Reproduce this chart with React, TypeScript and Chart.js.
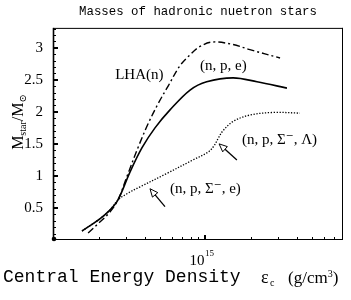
import React, { useEffect, useRef } from 'react';
import { Chart, registerables } from 'chart.js';

Chart.register(...registerables);

const TITLE = 'Masses of hadronic nuetron stars';
const X_TITLE = 'Central Energy Density';
const Y_TITLE_MAIN = 'M';
const Y_TITLE_SUB = 'star';
const Y_TITLE_SUB2 = '⊙';

// LHA(n) curve (dash-dot)
const lhaX = [1.70e14, 2.03e14, 2.37e14, 2.67e14, 3.10e14, 3.61e14, 4.20e14, 4.89e14, 5.72e14, 6.81e14, 7.93e14, 9.22e14, 1.12e15, 1.52e15, 1.96e15, 3.09e15];
const lhaY = [0.11, 0.28, 0.44, 0.625, 1.03, 1.44, 1.81, 2.125, 2.41, 2.72, 2.89, 3.02, 3.09, 3.05, 2.97, 2.84];

// (n, p, e) curve (solid)
const npeX = [1.55e14, 2.03e14, 2.37e14, 2.67e14, 3.20e14, 3.84e14, 4.67e14, 5.86e14, 7.93e14, 1.02e15, 1.52e15, 2.18e15, 3.43e15];
const npeY = [0.14, 0.33, 0.47, 0.625, 1.06, 1.44, 1.75, 2.03, 2.34, 2.47, 2.53, 2.47, 2.37];

// hyperon curve (dotted)
const hypX = [1.55e14, 2.03e14, 2.37e14, 2.67e14, 3.10e14, 3.73e14, 5.60e14, 8.30e14, 1.04e15, 1.14e15, 1.21e15, 1.30e15, 1.52e15, 1.96e15, 2.78e15, 4.18e15];
const hypY = [0.14, 0.33, 0.47, 0.625, 0.73, 0.83, 1.04, 1.25, 1.37, 1.47, 1.58, 1.70, 1.85, 1.95, 1.99, 1.98];

const xMin = 1e14;
const xMax = 8e15;
const yMin = 0;
const yMax = 3.31;

const xMinorTicks = [2e14, 3e14, 4e14, 5e14, 6e14, 7e14, 8e14, 9e14, 2e15, 3e15, 4e15, 5e15, 6e15, 7e15];
const xMajorTicks = [1e15];
const xTickBase = '10';
const xTickExp = '15';

const yTickValues = [0.5, 1, 1.5, 2, 2.5, 3];
const yTickLabels = ['0.5', '1', '1.5', '2', '2.5', '3'];

const labelTexts = ['LHA(n)', '(n, p, e)', '(n, p, Σ⁻, Λ)', '(n, p, Σ⁻, e)'];
const labelX = [2.56e14, 9.22e14, 1.74e15, 5.86e14];
const labelY = [2.58, 2.72, 1.5625, 0.80];

const arrowHeadX = [1.23e15, 4.33e14];
const arrowHeadY = [1.5, 0.80];
const arrowTailX = [1.61e15, 5.43e14];
const arrowTailY = [1.25, 0.52];

const SERIF = '"Liberation Serif", "DejaVu Serif", serif';
const MONO = '"Liberation Mono", "DejaVu Sans Mono", monospace';

const toPts = (xs: number[], ys: number[]) => xs.map((x, i) => ({ x, y: ys[i] }));

const decorPlugin = {
  id: 'decor',
  afterDraw(chart: any) {
    const { ctx, chartArea: a, scales } = chart;
    const xs = scales.x;
    const ys = scales.y;
    ctx.save();
    ctx.strokeStyle = '#000';
    ctx.fillStyle = '#000';

    // frame
    ctx.lineWidth = 1;
    ctx.beginPath();
    ctx.moveTo(a.left, a.top + 0.5);
    ctx.lineTo(a.right, a.top + 0.5);
    ctx.moveTo(a.right - 0.5, a.top);
    ctx.lineTo(a.right - 0.5, a.bottom);
    ctx.moveTo(a.left, a.bottom - 0.5);
    ctx.lineTo(a.right, a.bottom - 0.5);
    ctx.stroke();
    ctx.lineWidth = 1.6;
    ctx.beginPath();
    ctx.moveTo(a.left + 0.5, a.top);
    ctx.lineTo(a.left + 0.5, a.bottom);
    ctx.stroke();
    ctx.beginPath();
    ctx.arc(a.left + 1, a.bottom - 1, 2.3, 0, Math.PI * 2);
    ctx.fill();

    // y ticks (inward)
    ctx.lineWidth = 1;
    for (let k = 1; k * 0.1 < yMax; k++) {
      const v = k * 0.1;
      const py = Math.round(ys.getPixelForValue(v)) + 0.5;
      ctx.beginPath();
      ctx.moveTo(a.left, py);
      ctx.lineTo(a.left + 3, py);
      ctx.stroke();
    }
    ctx.lineWidth = 2;
    yTickValues.forEach((v) => {
      const py = Math.round(ys.getPixelForValue(v));
      ctx.beginPath();
      ctx.moveTo(a.left, py);
      ctx.lineTo(a.left + 5, py);
      ctx.stroke();
    });

    // x ticks (inward)
    ctx.lineWidth = 1;
    xMinorTicks.forEach((v) => {
      const px = Math.round(xs.getPixelForValue(v)) + 0.5;
      ctx.beginPath();
      ctx.moveTo(px, a.bottom);
      ctx.lineTo(px, a.bottom - 3);
      ctx.stroke();
    });
    ctx.lineWidth = 2;
    xMajorTicks.forEach((v) => {
      const px = Math.round(xs.getPixelForValue(v));
      ctx.beginPath();
      ctx.moveTo(px, a.bottom);
      ctx.lineTo(px, a.bottom - 5);
      ctx.stroke();
    });

    // x tick label 10^15
    xMajorTicks.forEach((v) => {
      const px = xs.getPixelForValue(v);
      ctx.font = `15px ${SERIF}`;
      ctx.textBaseline = 'alphabetic';
      ctx.textAlign = 'left';
      const wb = ctx.measureText(xTickBase).width;
      ctx.font = `9px ${SERIF}`;
      const we = ctx.measureText(xTickExp).width;
      const x0 = px - 4 - (wb + we) / 2;
      ctx.font = `15px ${SERIF}`;
      ctx.fillText(xTickBase, x0, 265);
      ctx.font = `9px ${SERIF}`;
      ctx.fillText(xTickExp, x0 + wb + 0.5, 256);
    });

    // x title
    ctx.textAlign = 'left';
    ctx.textBaseline = 'alphabetic';
    ctx.font = `18px ${MONO}`;
    ctx.fillText(X_TITLE, 3, 282);
    ctx.font = `18px ${SERIF}`;
    ctx.fillText('ε', 261, 283);
    ctx.font = `10px ${SERIF}`;
    ctx.fillText('c', 270, 286);
    ctx.font = `17px ${SERIF}`;
    ctx.fillText('(g/cm', 288, 283);
    const wgc = ctx.measureText('(g/cm').width;
    ctx.font = `10px ${SERIF}`;
    ctx.fillText('3', 288 + wgc, 277);
    const w3 = ctx.measureText('3').width;
    ctx.font = `17px ${SERIF}`;
    ctx.fillText(')', 288 + wgc + w3, 283);

    // y title (rotated)
    ctx.save();
    ctx.translate(23, 122);
    ctx.rotate(-Math.PI / 2);
    const parts: [string, number, number][] = [
      [Y_TITLE_MAIN, 16, 0],
      [Y_TITLE_SUB, 10, 3],
      ['/', 16, 0],
      [Y_TITLE_MAIN, 16, 0],
      [Y_TITLE_SUB2, 10, 3],
    ];
    let total = 0;
    const widths = parts.map(([t, s]) => {
      ctx.font = `${s}px ${SERIF}`;
      const w = ctx.measureText(t).width;
      total += w;
      return w;
    });
    let cx = -total / 2;
    parts.forEach(([t, s, dy], i) => {
      ctx.font = `${s}px ${SERIF}`;
      ctx.fillText(t, cx, dy);
      cx += widths[i];
    });
    ctx.restore();

    // curve labels
    ctx.font = `15px ${SERIF}`;
    ctx.textAlign = 'left';
    ctx.textBaseline = 'middle';
    labelTexts.forEach((t, i) => {
      ctx.fillText(t, xs.getPixelForValue(labelX[i]), ys.getPixelForValue(labelY[i]));
    });

    // arrows
    arrowHeadX.forEach((hx, i) => {
      const hX = xs.getPixelForValue(hx);
      const hY = ys.getPixelForValue(arrowHeadY[i]);
      const tX = xs.getPixelForValue(arrowTailX[i]);
      const tY = ys.getPixelForValue(arrowTailY[i]);
      const ang = Math.atan2(hY - tY, hX - tX);
      const len = 8;
      const hw = 3.5;
      const bx = hX - len * Math.cos(ang);
      const by = hY - len * Math.sin(ang);
      ctx.lineWidth = 1.3;
      ctx.beginPath();
      ctx.moveTo(tX, tY);
      ctx.lineTo(bx, by);
      ctx.stroke();
      ctx.lineWidth = 1;
      ctx.beginPath();
      ctx.moveTo(hX, hY);
      ctx.lineTo(bx + hw * Math.sin(ang), by - hw * Math.cos(ang));
      ctx.lineTo(bx - hw * Math.sin(ang), by + hw * Math.cos(ang));
      ctx.closePath();
      ctx.fillStyle = '#fff';
      ctx.fill();
      ctx.stroke();
      ctx.fillStyle = '#000';
    });

    ctx.restore();
  },
};

export default function App() {
  const ref = useRef<HTMLCanvasElement>(null);
  useEffect(() => {
    if (!ref.current) return;
    const chart = new Chart(ref.current, {
      type: 'line',
      data: {
        datasets: [
          {
            label: 'LHA(n)',
            data: toPts(lhaX, lhaY),
            borderColor: '#000',
            borderWidth: 1.4,
            borderDash: [7, 3, 2, 3],
            pointRadius: 0,
            tension: 0.35,
            fill: false,
          },
          {
            label: '(n, p, e)',
            data: toPts(npeX, npeY),
            borderColor: '#000',
            borderWidth: 1.6,
            pointRadius: 0,
            tension: 0.35,
            fill: false,
          },
          {
            label: '(n, p, Σ⁻, e) / (n, p, Σ⁻, Λ)',
            data: toPts(hypX, hypY),
            borderColor: '#000',
            borderWidth: 1.3,
            borderDash: [1.3, 1.6],
            pointRadius: 0,
            tension: 0.35,
            fill: false,
          },
        ],
      },
      options: {
        animation: false,
        responsive: false,
        devicePixelRatio: 1,
        layout: { padding: { left: 0, right: 8, top: 0, bottom: 0 } },
        plugins: {
          legend: { display: false },
          tooltip: { enabled: false },
          title: {
            display: true,
            text: TITLE,
            fullSize: false,
            color: '#000',
            font: { family: MONO, size: 12.4, weight: 'normal' },
            padding: { top: 4, bottom: 9 },
          },
        },
        scales: {
          x: {
            type: 'logarithmic',
            min: xMin,
            max: xMax,
            grid: { display: false, drawTicks: false },
            border: { display: false },
            ticks: { display: false },
            afterFit: (s: any) => {
              s.height = 60;
            },
          },
          y: {
            type: 'linear',
            min: yMin,
            max: yMax,
            grid: { display: false, drawTicks: false },
            border: { display: false },
            ticks: {
              stepSize: 0.5,
              autoSkip: false,
              padding: 10,
              color: '#000',
              font: { family: SERIF, size: 15 },
              callback: (v: any) => {
                const idx = yTickValues.findIndex((t) => Math.abs(t - Number(v)) < 1e-6);
                return idx >= 0 ? yTickLabels[idx] : '';
              },
            },
            afterFit: (s: any) => {
              s.width = 53;
            },
          },
        },
      } as any,
      plugins: [decorPlugin],
    });
    return () => chart.destroy();
  }, []);
  return (
    <div style={{ position: 'absolute', left: 0, top: 0, width: 351, height: 300, background: '#fff' }}>
      <canvas ref={ref} width={351} height={300} />
    </div>
  );
}
